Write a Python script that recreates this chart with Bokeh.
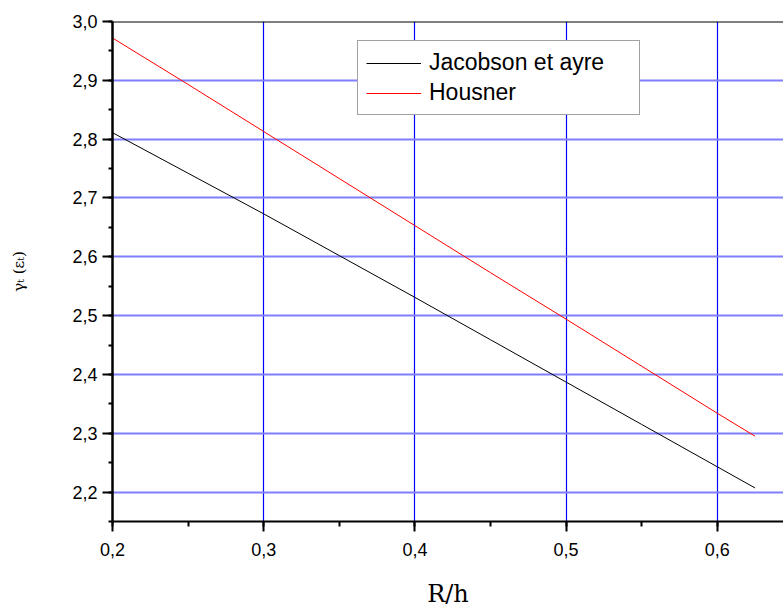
from bokeh.plotting import figure
from bokeh.models import (Range1d, SingleIntervalTicker, CustomJSTickFormatter, Legend, LegendItem, Span)
from bokeh.embed import file_html
from bokeh.resources import INLINE

# Data
rh = [0.2, 0.25, 0.3, 0.35, 0.4, 0.45, 0.5, 0.55, 0.6, 0.625]
jacobson = [2.811, 2.742, 2.673, 2.602, 2.531, 2.459, 2.387, 2.315, 2.243, 2.207]
housner = [2.972, 2.893, 2.813, 2.733, 2.653, 2.573, 2.494, 2.414, 2.334, 2.295]
series_labels = ["Jacobson et ayre", "Housner"]
x_title = "R/h"
y_title = "γₜ (εₜ)"

p = figure(width=783, height=610, output_backend="svg", toolbar_location=None,
           x_range=Range1d(0.2, 0.6438), y_range=Range1d(2.15, 3.0),
           min_border_left=112, min_border_right=0, min_border_top=21, min_border_bottom=87)
p.outline_line_color = None
p.background_fill_color = "white"
p.border_fill_color = "white"

fmt = CustomJSTickFormatter(code="return tick.toFixed(1).replace('.', ',');")

# x axis
xax = p.xaxis[0]
xax.ticker = SingleIntervalTicker(interval=0.1, num_minor_ticks=2)
xax.formatter = fmt
xax.axis_line_width = 2
xax.axis_line_color = "black"
xax.major_tick_line_width = 2
xax.major_tick_out = 10
xax.major_tick_in = 0
xax.minor_tick_line_width = 2
xax.minor_tick_out = 5
xax.minor_tick_in = 0
xax.major_label_text_font = "Liberation Sans"
xax.major_label_text_font_size = "18px"
xax.major_label_text_color = "black"
xax.major_label_standoff = 11
xax.axis_label = x_title
xax.axis_label_text_font = "DejaVu Serif"
xax.axis_label_text_font_size = "24px"
xax.axis_label_text_font_style = "normal"
xax.axis_label_text_color = "black"
xax.axis_label_standoff = 21

# y axis
yax = p.yaxis[0]
yax.ticker = SingleIntervalTicker(interval=0.1, num_minor_ticks=2)
yax.formatter = fmt
yax.axis_line_width = 2.5
yax.axis_line_color = "black"
yax.major_tick_line_width = 2
yax.major_tick_out = 10
yax.major_tick_in = 0
yax.minor_tick_line_width = 2
yax.minor_tick_out = 4
yax.minor_tick_in = 0
yax.major_label_text_font = "Liberation Sans"
yax.major_label_text_font_size = "18px"
yax.major_label_text_color = "black"
yax.major_label_standoff = 5
yax.axis_label = y_title
yax.axis_label_text_font = "DejaVu Serif"
yax.axis_label_text_font_size = "15px"
yax.axis_label_text_font_style = "normal"
yax.axis_label_text_color = "black"
yax.axis_label_standoff = 41

# grids
p.xgrid.grid_line_color = "#0000ff"
p.xgrid.grid_line_width = 1.2
p.ygrid.grid_line_color = "#7f7fff"
p.ygrid.grid_line_width = 2

# top frame line
p.add_layout(Span(location=3.0, dimension="width", line_color="black", line_width=2))

r1 = p.line(rh, jacobson, line_color="black", line_width=1)
r2 = p.line(rh, housner, line_color="#ff0000", line_width=1)

legend = Legend(items=[LegendItem(label=series_labels[0], renderers=[r1]),
                       LegendItem(label=series_labels[1], renderers=[r2])],
                location=(245, 406), margin=0, padding=8, spacing=3,
                glyph_width=55, glyph_height=22, label_height=22, label_standoff=8,
                label_width=202,
                label_text_font="Liberation Sans", label_text_font_size="23px",
                label_text_color="black",
                border_line_color="#444444", border_line_width=1.5,
                background_fill_color="white", background_fill_alpha=1)
p.add_layout(legend)

open("out.html", "w").write(file_html(p, INLINE))
